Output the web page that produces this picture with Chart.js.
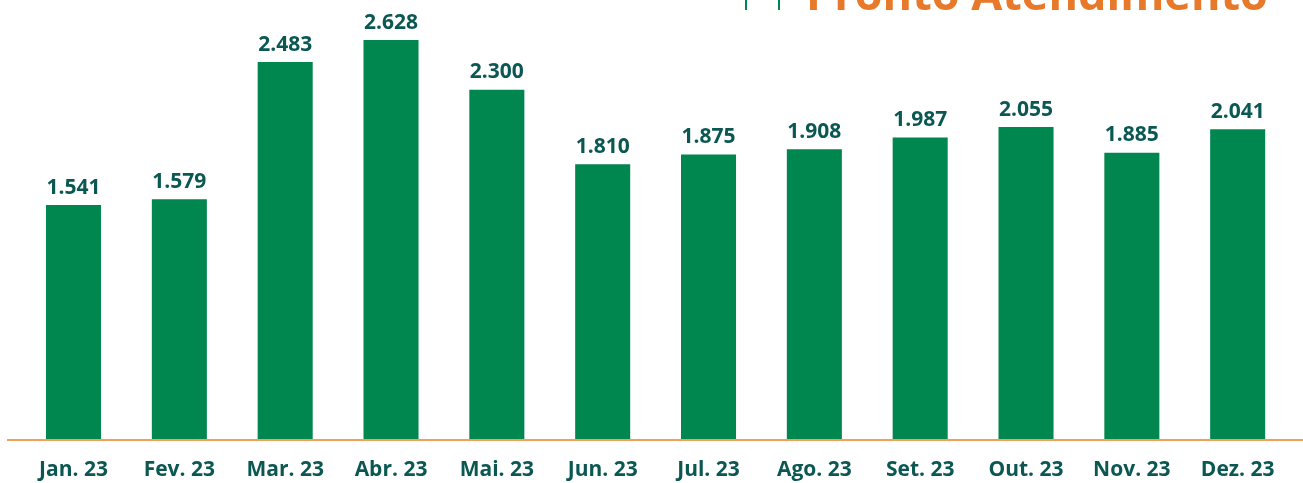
<!DOCTYPE html>
<html lang="pt-BR">
<head>
  <meta charset="UTF-8">
  <title>Pronto Atendimento</title>
  <script src="https://cdn.jsdelivr.net/npm/chart.js"></script>
  <style>
    body { margin: 0; padding: 0; background: #fff; }
    canvas { display: block; }
  </style>
</head>
<body>
  <canvas id="chart" width="1303" height="483"></canvas>
  <script>
    const months = ["Jan. 23", "Fev. 23", "Mar. 23", "Abr. 23", "Mai. 23", "Jun. 23",
                    "Jul. 23", "Ago. 23", "Set. 23", "Out. 23", "Nov. 23", "Dez. 23"];
    const atendimentos = [1541, 1579, 2483, 2628, 2300, 1810, 1875, 1908, 1987, 2055, 1885, 2041];
    const title = "Pronto Atendimento";

    const GREEN = "#00864f";
    const DARK = "#0b5853";
    const ORANGE = "#e8792a";

    // thousands separator like "1.541"
    function fmt(v) {
      return String(v).replace(/\B(?=(\d{3})+(?!\d))/g, ".");
    }

    // value labels above each bar
    const valueLabels = {
      id: "valueLabels",
      afterDatasetsDraw(chart) {
        const ctx = chart.ctx;
        const meta = chart.getDatasetMeta(0);
        ctx.save();
        ctx.fillStyle = DARK;
        ctx.font = "bold 21px 'Open Sans'";
        ctx.textAlign = "center";
        ctx.textBaseline = "bottom";
        meta.data.forEach((bar, i) => {
          ctx.fillText(fmt(atendimentos[i]), bar.x, bar.y - 7);
        });
        ctx.restore();
      }
    };

    // orange base line and the clipped heading
    const decor = {
      id: "decor",
      afterDraw(chart) {
        const ctx = chart.ctx;
        const y = chart.scales.y.getPixelForValue(0);
        ctx.save();
        ctx.strokeStyle = "#f0a05a";
        ctx.lineWidth = 2;
        ctx.beginPath();
        ctx.moveTo(7, y + 1);
        ctx.lineTo(chart.width, y + 1);
        ctx.stroke();

        ctx.strokeStyle = GREEN;
        ctx.lineWidth = 2;
        [746, 779].forEach(x => {
          ctx.beginPath();
          ctx.moveTo(x, 0);
          ctx.lineTo(x, 10);
          ctx.stroke();
        });

        ctx.fillStyle = ORANGE;
        ctx.font = "bold 45px 'Open Sans'";
        ctx.textAlign = "left";
        ctx.textBaseline = "alphabetic";
        ctx.fillText(title, 806, 10);
        ctx.restore();
      }
    };

    new Chart(document.getElementById("chart"), {
      type: "bar",
      data: {
        labels: months,
        datasets: [{
          data: atendimentos,
          backgroundColor: GREEN,
          categoryPercentage: 1,
          barPercentage: 0.52
        }]
      },
      options: {
        responsive: false,
        animation: false,
        layout: { padding: { left: 20.6, right: 12.4, top: 0, bottom: 0 } },
        plugins: {
          legend: { display: false },
          tooltip: { enabled: false }
        },
        scales: {
          x: {
            grid: { display: false },
            border: { display: false },
            ticks: {
              color: DARK,
              font: { family: "'Open Sans'", size: 21, weight: "bold" },
              padding: 10
            },
            afterFit(scale) { scale.height = 44; }
          },
          y: {
            display: false,
            min: 0,
            max: 2892
          }
        }
      },
      plugins: [valueLabels, decor]
    });
  </script>
</body>
</html>
